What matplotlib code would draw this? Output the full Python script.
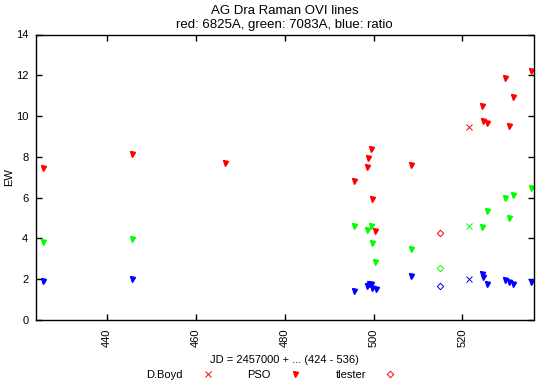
import matplotlib
matplotlib.use("Agg")
import matplotlib.pyplot as plt
from matplotlib.lines import Line2D

plt.rcParams['font.family'] = ['Liberation Sans', 'DejaVu Sans']
plt.rcParams['font.size'] = 8

# PSO (triangles)
pso_red_x = [425.6, 445.6, 466.5, 495.5, 498.7, 498.6, 499.5, 499.6, 500.4, 508.5,
             524.5, 524.7, 525.5, 529.5, 530.5, 531.4, 535.5]
pso_red_y = [7.47, 8.16, 7.72, 6.84, 7.94, 7.50, 8.38, 5.91, 4.38, 7.60,
             10.48, 9.75, 9.65, 11.85, 9.50, 10.95, 12.19]
pso_green_x = [425.6, 445.6, 495.5, 498.6, 499.5, 499.7, 500.4, 508.5,
               524.5, 525.5, 529.5, 530.5, 531.4, 535.5]
pso_green_y = [3.81, 3.96, 4.63, 4.43, 4.61, 3.77, 2.82, 3.49,
               4.58, 5.36, 5.98, 4.99, 6.14, 6.48]
pso_blue_x = [425.6, 445.6, 495.5, 498.5, 498.9, 499.5, 499.7, 500.5, 508.5,
              524.5, 524.7, 525.5, 529.5, 530.5, 531.4, 535.5]
pso_blue_y = [1.93, 2.01, 1.44, 1.68, 1.78, 1.77, 1.55, 1.54, 2.14,
              2.25, 2.09, 1.77, 1.96, 1.86, 1.77, 1.84]

# D.Boyd (crosses)
boyd_x = [521.5]
boyd_red = [9.44]
boyd_green = [4.63]
boyd_blue = [2.02]

# tlester (diamonds)
tlester_x = [514.9]
tlester_red = [4.27]
tlester_green = [2.53]
tlester_blue = [1.67]

xticks = [440, 460, 480, 500, 520]
yticks = [0, 2, 4, 6, 8, 10, 12, 14]

red, green, blue = '#ff0000', '#00ff00', '#0000ff'

fig = plt.figure(figsize=(5.39, 3.86), dpi=100)
ax = fig.add_axes([36 / 539, 1 - 320 / 386, (533.5 - 36) / 539, (320 - 34.5) / 386])

ms = 3.6
for xs, ys, c in [(pso_red_x, pso_red_y, red), (pso_green_x, pso_green_y, green),
                  (pso_blue_x, pso_blue_y, blue)]:
    ax.plot(xs, ys, linestyle='none', marker='v', color=c, markersize=ms)
for ys, c in [(boyd_red, red), (boyd_green, green), (boyd_blue, blue)]:
    ax.plot(boyd_x, ys, linestyle='none', marker='x', color=c, markersize=5, markeredgewidth=0.7)
for ys, c in [(tlester_red, red), (tlester_green, green), (tlester_blue, blue)]:
    ax.plot(tlester_x, ys, linestyle='none', marker='D', color=c, markersize=3.3,
            markerfacecolor='none', markeredgewidth=0.7)

ax.set_xlim(424, 536)
ax.set_ylim(0, 14)
ax.set_xticks(xticks)
ax.set_yticks(yticks)
ax.tick_params(direction='in', top=True, right=True, length=4, width=1, pad=5.5)
ax.tick_params(axis='x', labelrotation=90, pad=6)
for s in ax.spines.values():
    s.set_linewidth(1)

ax.set_ylabel('EW', labelpad=1)
ax.set_xlabel('JD = 2457000 + ... (424 - 536)', labelpad=6)
ax.set_title('AG Dra Raman OVI lines\nred: 6825A, green: 7083A, blue: ratio',
             fontsize=9.5, pad=5)

handles = [Line2D([], [], linestyle='none', marker='x', color=red, markersize=5, markeredgewidth=0.7),
           Line2D([], [], linestyle='none', marker='v', color=red, markersize=ms),
           Line2D([], [], linestyle='none', marker='D', color=red, markersize=3.3,
                  markerfacecolor='none', markeredgewidth=0.7)]
fig.legend(handles, ['D.Boyd', 'PSO', 'tlester'], loc='center', ncol=3,
           bbox_to_anchor=(274 / 539, 1 - 375 / 386), frameon=False, markerfirst=False,
           columnspacing=2.6, handletextpad=1.2, borderpad=0)

fig.savefig('out.png', dpi=100)
